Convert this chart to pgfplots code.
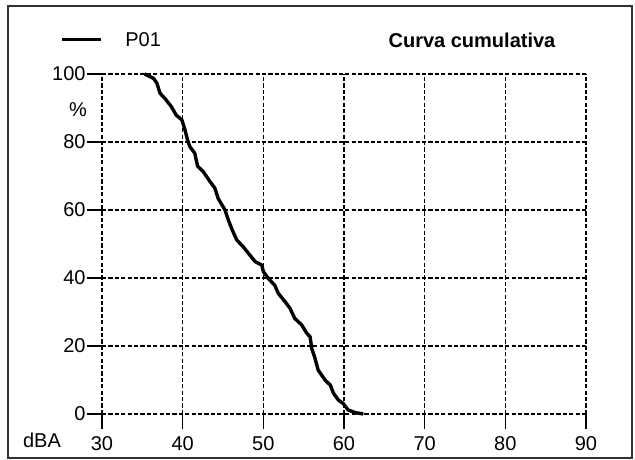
\documentclass[border=0pt]{standalone}
\usepackage{pgfplots}
\pgfplotsset{compat=1.18}
\usepackage{fontspec}
\setmainfont{Liberation Sans}
\begin{document}
\begin{tikzpicture}
\useasboundingbox (-51pt,-22.5pt) rectangle (266.5pt,207pt);
\draw[line width=1.2pt, draw=black!80] (-47pt,-22pt) rectangle (265pt,204pt);
\begin{axis}[
  at={(0pt,0pt)}, anchor=south west,
  scale only axis, width=242pt, height=170pt,
  xmin=30, xmax=90, ymin=0, ymax=100,
  xtick={30,40,...,90}, ytick={0,20,...,100},
  axis line style={draw=none},
  tick pos=left, tick align=outside,
  major tick length=7.5pt,
  tick style={black, line width=0.55pt, solid},
  grid=major,
  major grid style={black, line width=0.55pt, dash pattern=on 2.1pt off 1.1pt},
  ticklabel style={font=\fontsize{10}{12}\selectfont},
  yticklabel style={xshift=2.8pt},
  /pgf/number format/assume math mode=true,
  clip=false,
]
\addplot[black, line width=1.7pt, line join=round] coordinates {
(35.3,100) (36.4,98.7) (36.8,97.3) (37.2,94.3) (37.8,92.8) (38.6,90.4)
(39.2,87.9) (39.9,86.5) (40.3,83.5) (40.6,80.6) (40.9,78.6) (41.5,76.7)
(41.85,72.9) (42.55,71.3) (43.4,68.3) (44.0,66.4) (44.4,63.4) (45.0,61.0)
(45.25,60.0) (45.65,57.1) (46.1,54.4) (46.7,51.2) (47.5,49.2) (48.3,46.8)
(49.0,44.8) (49.8,43.8) (50.0,41.9) (50.6,39.9) (51.4,37.9) (51.85,35.5)
(52.7,33.0) (53.3,31.1) (53.9,28.1) (54.75,26.2) (55.4,23.7) (55.8,22.7)
(56.0,19.3) (56.4,16.4) (56.8,12.9) (57.65,10.0) (58.3,8.5) (58.7,6.1)
(59.3,4.1) (59.9,3.1) (60.5,1.2) (61.4,0.4) (62.4,0)
};
\end{axis}
\draw[black, line width=1.5pt] (-20pt,187pt) -- (-0.5pt,187pt);
\node[anchor=west, inner sep=0pt, font=\fontsize{10}{12}\selectfont] at (11.5pt,187pt) {P01};
\node[inner sep=0pt, font=\fontsize{10}{12}\selectfont\bfseries] at (185pt,187pt) {Curva cumulativa};
\node[inner sep=0pt, font=\fontsize{10}{12}\selectfont] at (-12pt,152pt) {\%};
\node[inner sep=0pt, font=\fontsize{10}{12}\selectfont] at (-30pt,-13pt) {dBA};
\end{tikzpicture}
\end{document}
